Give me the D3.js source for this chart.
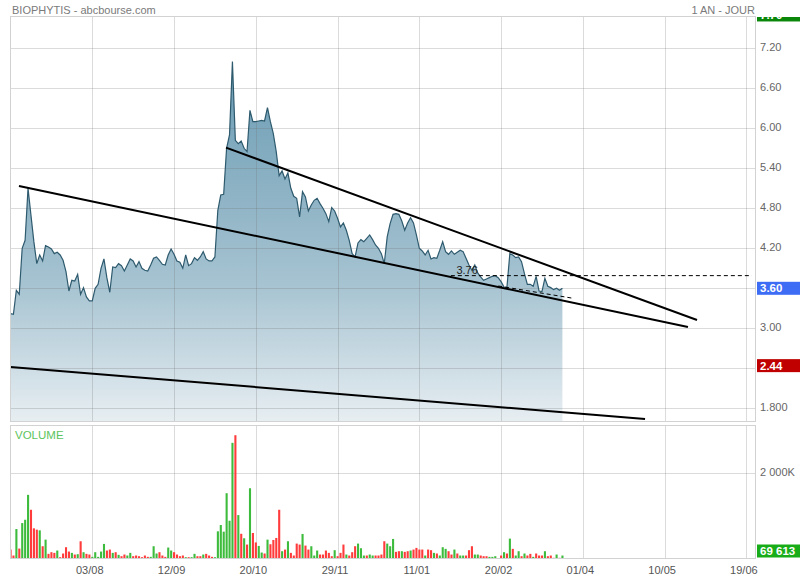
<!DOCTYPE html>
<html><head><meta charset="utf-8">
<script src="https://cdn.jsdelivr.net/npm/d3@7"></script>
<style>
body{margin:0;background:#fff;}
svg{display:block;font-family:"Liberation Sans",Arial,Helvetica,sans-serif;}
</style>
</head><body>
<svg id="c" width="800" height="580"></svg>
<script>
// ---------- DATA ----------
const closes = [
3.22,3.21,3.57,3.51,4.20,4.32,5.10,4.70,4.30,3.97,
4.10,4.01,4.24,4.22,4.19,4.12,4.14,4.10,4.02,3.85,
3.56,3.72,3.71,3.81,3.51,3.61,3.47,3.41,3.41,3.60,
3.66,3.90,4.04,3.76,3.54,3.92,3.91,3.97,3.94,3.86,
3.95,4.04,4.01,3.92,4.00,3.90,3.87,3.86,3.95,4.05,
4.07,4.02,3.96,3.95,4.10,4.19,4.11,4.01,3.99,3.90,
4.10,3.94,3.97,4.06,4.02,4.07,4.15,4.04,4.01,4.01,
4.07,4.77,5.00,5.01,5.70,5.90,7.00,5.82,5.77,5.81,
5.70,5.65,6.27,6.10,6.10,6.11,6.12,6.11,6.31,6.10,
5.92,5.65,5.29,5.36,5.24,5.33,5.10,4.98,4.95,4.67,
5.05,4.97,4.76,4.85,4.92,4.95,4.87,4.80,4.72,4.60,
4.81,4.76,4.65,4.52,4.58,4.47,4.32,4.12,4.07,4.28,
4.33,4.30,4.35,4.40,4.33,4.25,4.20,4.12,3.97,4.37,
4.57,4.71,4.72,4.71,4.61,4.47,4.58,4.66,4.58,4.40,
4.20,4.16,4.10,4.17,4.04,4.06,4.05,4.17,4.30,4.15,
4.11,4.16,4.11,4.14,4.17,4.15,4.05,3.95,3.87,3.95,
3.83,3.77,3.72,3.74,3.76,3.78,3.79,3.76,3.70,3.62,
3.61,4.12,4.10,4.06,4.07,4.00,3.82,3.66,3.66,3.63,
3.78,3.56,3.55,3.75,3.63,3.61,3.58,3.60,3.57,3.60
];
// volumes in thousands of shares
const volumes = [
210,70,692,233,832,910,1494,1144,708,677,
661,288,443,109,148,132,187,31,117,265,
163,132,93,101,405,148,109,93,39,148,
39,163,342,187,210,132,148,86,54,93,
70,132,54,70,54,31,70,39,39,288,
117,148,70,39,257,187,148,93,54,70,
31,31,31,109,54,54,93,109,70,39,
31,638,786,630,1533,887,2715,2894,1019,580,
475,327,1649,599,377,295,140,117,443,335,
435,482,1144,171,210,405,132,70,350,327,
576,303,210,288,70,187,93,93,187,132,
54,195,54,132,327,93,70,148,288,350,
241,70,70,93,70,70,70,93,405,350,
288,459,156,171,171,156,171,187,210,249,
210,210,70,210,195,132,117,70,265,226,
171,93,210,117,70,70,70,195,288,93,
93,70,54,54,39,39,54,10,70,148,
117,467,226,70,171,54,117,70,109,39,
117,70,70,171,54,70,16,93,16,69.613
];
// G = up day (green bar), R = down day (red bar)
const volumeDirections =
 "RRGRGGGRRR"+"GRGRRRGRRR"+"RGRGRGRRGG"+"GGGRRGRGRR"+"GGRRRRRRGG"+
 "GRRRGGRRRR"+"GRGGRRGRRR"+"GGGGGGGRGR"+"GRGRRGGRGR"+"RRRGRGRRRR"+
 "GRRGGGRRRR"+"RGRRRGRRRG"+"GGRGGRRRRG"+"GGRRGRRGRR"+"RRGRRGRGGG"+
 "RRGRGGRRRG"+"GRRRGGGRRG"+"RGRGGRGRRG"+"RRRGRRRGRG";

const xTickIndex  = [28,56,84,112,140,168,196,224,252];
const xTickLabels = ["03/08","12/09","20/10","29/11","11/01","20/02","01/04","10/05","19/06"];
const yTickValues = [7.2,6.6,6.0,5.4,4.8,4.2,3.6,3.0,2.4,1.8];
const yTickLabels = ["7.20","6.60","6.00","5.40","4.80","4.20","3.60","3.00","2.40","1.800"];
const volTickValues = [2000];
const volTickLabels = ["2 000K"];

// trend lines drawn on the chart: [[index, price],[index, price]]
const trendLines = [
  [[2.9,5.135],[232.0,3.02]],
  [[73.8,5.71],[235.1,3.125]],
  [[0,2.42],[217.3,1.64]]
];
const dashedLines = [
  [[150.8,3.79],[253.9,3.79]],
  [[167.05,3.635],[192.7,3.45]]
];
const levelLabel = {index:152.7, price:3.79, text:"3.76"};

const lastPrice = 3.60, lastPriceLabel = "3.60";
const highMark = 7.70, highLabel = "7.70";
const lowMark = 2.44, lowLabel = "2.44";
const lastVolume = 69.613, lastVolumeLabel = "69 613";

const title = "BIOPHYTIS - abcbourse.com";
const period = "1 AN - JOUR";
const volTitle = "VOLUME";

// ---------- LAYOUT ----------
const L=10, R=756, T=17, B=421, VT=425.5, VB=558.5;
const svg = d3.select("#c");
const x  = d3.scaleLinear().domain([0,255.3]).range([10.5,756]);
const y  = d3.scaleLinear().domain([1.8,7.2]).range([408.3,48.3]);
const yv = d3.scaleLinear().domain([0,2000]).range([VB,473.3]);

const defs = svg.append("defs");
defs.append("clipPath").attr("id","clipMain").append("rect")
  .attr("x",L).attr("y",T).attr("width",R-L).attr("height",B-T);
defs.append("clipPath").attr("id","clipVol").append("rect")
  .attr("x",L).attr("y",VT).attr("width",R-L).attr("height",VB-VT);
const grad = defs.append("linearGradient").attr("id","fillGrad")
  .attr("gradientUnits","userSpaceOnUse").attr("x1",0).attr("x2",0).attr("y1",60).attr("y2",B);
grad.append("stop").attr("offset",0).attr("stop-color","#6a9bb3");
grad.append("stop").attr("offset",0.62).attr("stop-color","#a6c3d1");
grad.append("stop").attr("offset",1).attr("stop-color","#e7eef2");

svg.append("rect").attr("width",800).attr("height",580).attr("fill","#fff");

// ---------- MAIN PANEL ----------
const main = svg.append("g").attr("clip-path","url(#clipMain)");
const pts = closes.map((v,i)=>[i,v]);
main.append("path").datum(pts)
  .attr("d", d3.area().x(d=>x(d[0])).y0(B).y1(d=>y(d[1])))
  .attr("fill","url(#fillGrad)");

const gridCol = "rgba(110,110,110,0.25)";
const gx = main.append("g").attr("transform",`translate(0,${B})`)
  .call(d3.axisBottom(x).tickValues(xTickIndex).tickSize(-(B-T)).tickFormat(""));
const gy = main.append("g").attr("transform",`translate(${L},0)`)
  .call(d3.axisLeft(y).tickValues(yTickValues).tickSize(-(R-L)).tickFormat(""));
[gx,gy].forEach(g=>{g.select(".domain").remove(); g.selectAll("line").attr("stroke",gridCol).attr("shape-rendering","crispEdges");});

main.append("path").datum(pts)
  .attr("d", d3.line().x(d=>x(d[0])).y(d=>y(d[1])))
  .attr("fill","none").attr("stroke","#2e5a6e").attr("stroke-width",1.2);

main.selectAll(".trend").data(trendLines).enter().append("line")
  .attr("x1",d=>x(d[0][0])).attr("y1",d=>y(d[0][1]))
  .attr("x2",d=>x(d[1][0])).attr("y2",d=>y(d[1][1]))
  .attr("stroke","#000").attr("stroke-width",2);
main.selectAll(".dash").data(dashedLines).enter().append("line")
  .attr("x1",d=>x(d[0][0])).attr("y1",d=>y(d[0][1]))
  .attr("x2",d=>x(d[1][0])).attr("y2",d=>y(d[1][1]))
  .attr("stroke","#000").attr("stroke-width",1).attr("stroke-dasharray","4,3");
main.append("text").attr("x",x(levelLabel.index)).attr("y",y(levelLabel.price)-2)
  .attr("font-size",11).attr("fill","#222").text(levelLabel.text);

svg.append("rect").attr("x",L+0.5).attr("y",T-0.5).attr("width",R-L-1).attr("height",B-T+0.5)
  .attr("fill","none").attr("stroke","#d2d2d2").attr("shape-rendering","crispEdges");

// right axis labels (labels covered by a value marker are not drawn, as in the original)
const markerValues = [highMark, lastPrice, lowMark];
const shownIdx = yTickValues.map((v,i)=>i)
  .filter(i=>markerValues.every(m=>Math.abs(y(m)-y(yTickValues[i]))>9));
const ya = svg.append("g").attr("transform",`translate(${R},0)`)
  .call(d3.axisRight(y).tickValues(shownIdx.map(i=>yTickValues[i])).tickSize(0).tickPadding(4)
    .tickFormat(d=>yTickLabels[yTickValues.indexOf(d)]));
ya.select(".domain").remove();
ya.selectAll("text").attr("font-size",11).attr("fill","#666").attr("dy","0.24em")
  .attr("font-family","Liberation Sans, Arial, sans-serif");

// value marker boxes
function marker(cy, label, col, clipTop, clipBottom){
  const g = svg.append("g");
  let top = cy-6.5, h = 13;
  if (clipTop!==undefined && top<clipTop){ h -= (clipTop-top); top = clipTop; }
  if (clipBottom!==undefined && top+h>clipBottom){ top = clipBottom-h; cy = top+6.5; }
  const cid = "m"+Math.round(cy*10);
  g.append("clipPath").attr("id",cid).append("rect").attr("x",757).attr("y",top).attr("width",43).attr("height",h);
  g.append("rect").attr("x",757).attr("y",top).attr("width",43).attr("height",h).attr("fill",col);
  g.append("text").attr("clip-path",`url(#${cid})`).attr("x",760).attr("y",cy+4)
    .attr("font-size",11.5).attr("font-weight","bold").attr("fill","#fff").text(label);
}
marker(y(highMark), highLabel, "#0a870a", T);
marker(y(lastPrice), lastPriceLabel, "#3d6cf5");
marker(y(lowMark), lowLabel, "#c00000");

// ---------- VOLUME PANEL ----------
const vol = svg.append("g").attr("clip-path","url(#clipVol)");
const vgx = vol.append("g").attr("transform",`translate(0,${VB})`)
  .call(d3.axisBottom(x).tickValues(xTickIndex).tickSize(-(VB-VT)).tickFormat(""));
const vgy = vol.append("g").attr("transform",`translate(${L},0)`)
  .call(d3.axisLeft(yv).tickValues(volTickValues).tickSize(-(R-L)).tickFormat(""));
[vgx,vgy].forEach(g=>{g.select(".domain").remove(); g.selectAll("line").attr("stroke",gridCol).attr("shape-rendering","crispEdges");});

vol.selectAll(".vb").data(volumes).enter().append("rect")
  .attr("x",(d,i)=>x(i)-1).attr("width",2.1)
  .attr("y",d=>yv(d)).attr("height",d=>VB-yv(d))
  .attr("fill",(d,i)=>volumeDirections[i]==="G"?"#3dbb3d":"#ff3b3b");

svg.append("rect").attr("x",L+0.5).attr("y",VT).attr("width",R-L-1).attr("height",VB-VT)
  .attr("fill","none").attr("stroke","#d2d2d2").attr("shape-rendering","crispEdges");

svg.append("text").attr("x",15).attr("y",438.5).attr("font-size",11.5).attr("fill","#5cc45c").text(volTitle);

const va = svg.append("g").attr("transform",`translate(${R},0)`)
  .call(d3.axisRight(yv).tickValues(volTickValues).tickSize(0).tickPadding(4)
    .tickFormat((d,i)=>volTickLabels[i]));
va.select(".domain").remove();
va.selectAll("text").attr("font-size",11).attr("fill","#666").attr("dy","0.24em")
  .attr("font-family","Liberation Sans, Arial, sans-serif");

marker(yv(lastVolume), lastVolumeLabel, "#18ad18", undefined, VB-1);

// ---------- X AXIS ----------
const xa = svg.append("g").attr("transform",`translate(-3,${VB})`)
  .call(d3.axisBottom(x).tickValues(xTickIndex).tickSize(0).tickPadding(8)
    .tickFormat((d,i)=>xTickLabels[i]));
xa.select(".domain").remove();
xa.selectAll("text").attr("font-size",11).attr("fill","#555")
  .attr("font-family","Liberation Sans, Arial, sans-serif");

// ---------- HEADER ----------
svg.append("text").attr("x",12).attr("y",13.5).attr("font-size",11).attr("fill","#7a7a7a").text(title);
svg.append("text").attr("x",755).attr("y",13.5).attr("text-anchor","end").attr("font-size",11).attr("fill","#7a7a7a").text(period);
</script>
</body></html>
